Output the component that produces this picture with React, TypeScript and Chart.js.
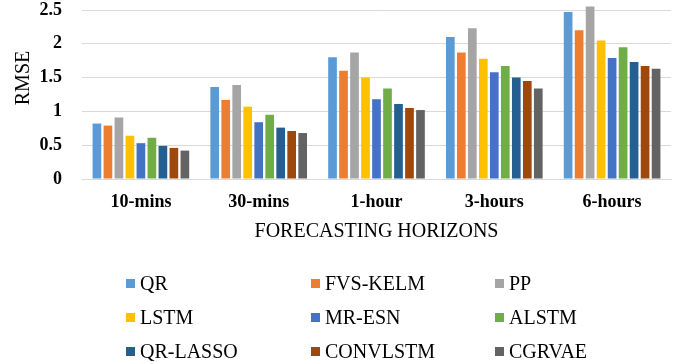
import React, { useEffect, useRef } from "react";
import { Chart, registerables } from "chart.js";

Chart.register(...registerables);

const categories = ["10-mins", "30-mins", "1-hour", "3-hours", "6-hours"];
const seriesNames = ["QR", "FVS-KELM", "PP", "LSTM", "MR-ESN", "ALSTM", "QR-LASSO", "CONVLSTM", "CGRVAE"];
const seriesColors = ["#5B9BD5", "#ED7D31", "#A5A5A5", "#FFC000", "#4472C4", "#70AD47", "#255E91", "#9E480E", "#636363"];

const QR = [0.82, 1.36, 1.8, 2.1, 2.47];
const FVS_KELM = [0.79, 1.17, 1.6, 1.87, 2.2];
const PP = [0.91, 1.39, 1.87, 2.23, 2.55];
const LSTM = [0.64, 1.07, 1.5, 1.78, 2.05];
const MR_ESN = [0.53, 0.84, 1.18, 1.58, 1.79];
const ALSTM = [0.61, 0.95, 1.34, 1.67, 1.95];
const QR_LASSO = [0.49, 0.76, 1.11, 1.5, 1.73];
const CONVLSTM = [0.46, 0.71, 1.05, 1.45, 1.67];
const CGRVAE = [0.42, 0.68, 1.02, 1.34, 1.63];

const seriesValues = [QR, FVS_KELM, PP, LSTM, MR_ESN, ALSTM, QR_LASSO, CONVLSTM, CGRVAE];

const yTicks = [0, 0.5, 1, 1.5, 2, 2.5];
const yTitle = "RMSE";
const xTitle = "FORECASTING HORIZONS";

const FONT = "'Liberation Serif', 'Times New Roman', serif";

const gridLegend = {
  id: "gridLegend",
  afterDraw(chart: any) {
    const ctx = chart.ctx;
    const colX = [126, 311, 495];
    const rowY = [284, 318, 352];
    ctx.save();
    ctx.textBaseline = "middle";
    ctx.textAlign = "left";
    chart.data.datasets.forEach((ds: any, i: number) => {
      const x = colX[i % 3];
      const y = rowY[Math.floor(i / 3)];
      ctx.fillStyle = ds.backgroundColor;
      ctx.fillRect(x, y - 5, 9, 9);
      ctx.font = `20px ${FONT}`;
      ctx.fillStyle = "#000";
      ctx.fillText(ds.label, x + 14, y + 1);
    });
    // y axis title
    ctx.save();
    ctx.translate(23, 78);
    ctx.rotate(-Math.PI / 2);
    ctx.font = `20px ${FONT}`;
    ctx.fillStyle = "#000";
    ctx.textAlign = "center";
    ctx.textBaseline = "middle";
    ctx.fillText(yTitle, 0, 1);
    ctx.restore();
    ctx.restore();
  },
};

export default function App() {
  const ref = useRef<HTMLCanvasElement>(null);
  useEffect(() => {
    if (!ref.current) return;
    const chart = new Chart(ref.current, {
      type: "bar",
      data: {
        labels: categories,
        datasets: seriesNames.map((name, i) => ({
          label: name,
          data: seriesValues[i],
          backgroundColor: seriesColors[i],
          barPercentage: 0.79,
          categoryPercentage: 0.84,
          clip: false as any,
        })),
      },
      options: {
        animation: false,
        responsive: false,
        maintainAspectRatio: false,
        layout: { padding: { left: 0, right: 15, top: 10, bottom: 120 } },
        plugins: {
          legend: { display: false },
          tooltip: { enabled: false },
        },
        scales: {
          x: {
            grid: { display: false, drawTicks: false },
            border: { display: true, color: "#D9D9D9", width: 1 },
            ticks: {
              color: "#000",
              padding: 13,
              maxRotation: 0,
              font: { family: FONT, size: 18, weight: "bold" },
            },
            title: {
              display: true,
              text: xTitle,
              color: "#000",
              padding: 0,
              font: { family: FONT, size: 20 },
            },
            afterFit(scale: any) {
              scale.height = 65;
              scale.paddingLeft = 0;
              scale.paddingRight = 0;
            },
          },
          y: {
            min: 0,
            max: 2.5,
            afterBuildTicks(scale: any) {
              scale.ticks = yTicks.map((v) => ({ value: v }));
            },
            grid: { color: "#D9D9D9", drawTicks: false },
            border: { display: false },
            ticks: {
              color: "#000",
              padding: 20,
              font: { family: FONT, size: 18, weight: "bold" },
              callback: (v: any) => String(v),
            },
            afterFit(scale: any) {
              scale.width = 82;
              scale.paddingTop = 0;
              scale.paddingBottom = 0;
            },
          },
        },
      },
      plugins: [gridLegend],
    });
    return () => chart.destroy();
  }, []);
  return (
    <div style={{ position: "fixed", left: 0, top: 0, width: 686, height: 364, background: "#fff" }}>
      <canvas ref={ref} width={686} height={364} style={{ width: 686, height: 364, display: "block" }} />
    </div>
  );
}
